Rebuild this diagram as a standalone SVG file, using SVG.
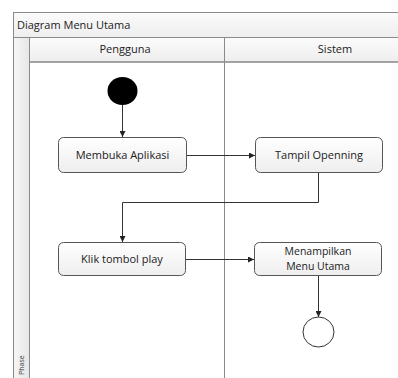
<svg xmlns="http://www.w3.org/2000/svg" width="398" height="378" viewBox="0 0 398 378">
  <style>
    .lane { fill: #ffffff; stroke: #8a8a8a; stroke-width: 1; }
    .hdr { fill: url(#hdrGrad); stroke: #8a8a8a; stroke-width: 1; }
    .box { fill: url(#boxGrad); stroke: #555555; stroke-width: 1; }
    .lbl { font-family: "Open Sans", "Liberation Sans", sans-serif; font-size: 11px; fill: #222222; text-anchor: middle; }
    .title { font-family: "Open Sans", "Liberation Sans", sans-serif; font-size: 11px; fill: #222222; }
    .edge { fill: none; stroke: #333333; stroke-width: 1; }
  </style>
  <defs>
    <linearGradient id="hdrGrad" x1="0" y1="0" x2="0" y2="1">
      <stop offset="0" stop-color="#fbfbfb"/>
      <stop offset="1" stop-color="#eeeeee"/>
    </linearGradient>
    <linearGradient id="boxGrad" x1="0" y1="0" x2="0" y2="1">
      <stop offset="0" stop-color="#ffffff"/>
      <stop offset="1" stop-color="#eeeeee"/>
    </linearGradient>
    <linearGradient id="stripGrad" x1="0" y1="0" x2="1" y2="0">
      <stop offset="0" stop-color="#f6f6f6"/>
      <stop offset="1" stop-color="#e6e6e6"/>
    </linearGradient>
    <marker id="arrow" viewBox="0 0 6 6" refX="6" refY="3" markerWidth="6" markerHeight="6" orient="auto" markerUnits="userSpaceOnUse">
      <path d="M0,0 L6,3 L0,6 Z" fill="#222222"/>
    </marker>
  </defs>

  <rect width="398" height="378" fill="#ffffff"/>

  <!-- swimlane frame -->
  <g id="frame">
    <rect class="hdr" x="13.5" y="12.5" width="400" height="25"/>
    <text class="title" x="17" y="29">Diagram Menu Utama</text>
    <rect x="13.5" y="37.5" width="16" height="350" fill="url(#stripGrad)" stroke="#8a8a8a"/>
    <text x="23.5" y="375" font-family="Open Sans, Liberation Sans, sans-serif" font-size="7px" fill="#333" text-anchor="start" transform="rotate(-90 23.5 375)">Phase</text>
  </g>
  <g id="lane-pengguna">
    <rect class="lane" x="29.5" y="37.5" width="195" height="350"/>
    <rect class="hdr" x="29.5" y="37.5" width="195" height="24.5"/>
    <line x1="29.5" y1="62" x2="224.5" y2="62" stroke="#9a9a9a" stroke-width="1.5"/>
    <text class="lbl" x="125" y="53">Pengguna</text>
  </g>
  <g id="lane-sistem">
    <rect class="lane" x="224.5" y="37.5" width="200" height="350"/>
    <rect class="hdr" x="224.5" y="37.5" width="200" height="24.5"/>
    <line x1="224.5" y1="62" x2="424" y2="62" stroke="#9a9a9a" stroke-width="1.5"/>
    <text class="lbl" x="335" y="53">Sistem</text>
  </g>

  <!-- connectors -->
  <g id="connectors">
    <path class="edge" d="M122.5,105 V137" marker-end="url(#arrow)"/>
    <path class="edge" d="M187,155.5 H255" marker-end="url(#arrow)"/>
    <path class="edge" d="M318.5,173 V202.5 H122.5 V242" marker-end="url(#arrow)"/>
    <path class="edge" d="M186,259.5 H254" marker-end="url(#arrow)"/>
    <path class="edge" d="M318.5,276 V317" marker-end="url(#arrow)"/>
  </g>

  <!-- nodes -->
  <g id="start">
    <ellipse cx="122.5" cy="91" rx="15" ry="14" fill="#000000"/>
  </g>
  <g id="membuka-aplikasi">
    <rect class="box" x="58.5" y="137.5" width="128" height="35" rx="5"/>
    <text class="lbl" x="122.5" y="159">Membuka Aplikasi</text>
  </g>
  <g id="tampil-openning">
    <rect class="box" x="255.5" y="137.5" width="127" height="35" rx="5"/>
    <text class="lbl" x="319" y="159">Tampil Openning</text>
  </g>
  <g id="klik-tombol-play">
    <rect class="box" x="58.5" y="242.5" width="127" height="33" rx="5"/>
    <text class="lbl" x="122" y="263">Klik tombol play</text>
  </g>
  <g id="menampilkan-menu-utama">
    <rect class="box" x="254.5" y="242.5" width="127" height="33" rx="5"/>
    <text class="lbl" x="318" y="255" style="font-size:10.5px"><tspan x="318">Menampilkan</tspan><tspan x="318" dy="14.5">Menu Utama</tspan></text>
  </g>
  <g id="end">
    <ellipse cx="318.5" cy="332" rx="15.5" ry="15" fill="#ffffff" stroke="#333333" stroke-width="1"/>
  </g>
</svg>
